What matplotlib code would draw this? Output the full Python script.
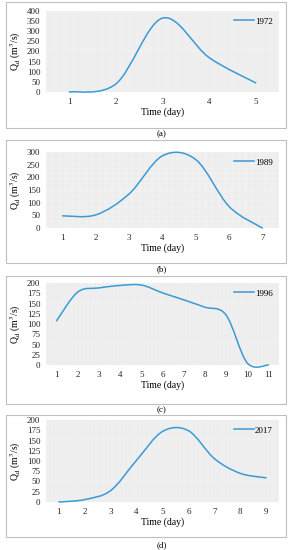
import matplotlib
matplotlib.use('Agg')
import matplotlib.pyplot as plt
from matplotlib.path import Path
from matplotlib.patches import PathPatch, Rectangle
from matplotlib.lines import Line2D
from matplotlib.ticker import MultipleLocator

plt.rcParams['font.family'] = ['Liberation Serif', 'DejaVu Serif']
plt.rcParams['mathtext.fontset'] = 'stix'

# daily discharge (m3/s)
days_1972 = [1, 2, 3, 4, 5]
q_1972 = [0, 40, 365, 170, 45]

days_1989 = [1, 2, 3, 4, 5, 6, 7]
q_1989 = [48, 52, 135, 285, 270, 85, 0]

days_1996 = [1, 2, 3, 4, 5, 6, 7, 8, 9, 10, 11]
q_1996 = [108, 178, 188, 194, 195, 176, 159, 141, 122, 5, 0]

days_2017 = [1, 2, 3, 4, 5, 6, 7, 8, 9]
q_2017 = [0, 6, 28, 102, 172, 174, 106, 70, 59]

years = ['1972', '1989', '1996', '2017']
panel_tags = ['(a)', '(b)', '(c)', '(d)']
y_max = [400, 300, 200, 200]
y_step = [50, 50, 25, 25]

LINE_COLOR = '#3a9ad6'
W, H = 291, 550


def smooth_path(x, y):
    # Excel-style smoothed line: cubic Bezier segments with Catmull-Rom control points
    pts = list(zip(x, y))
    verts = [pts[0]]
    codes = [Path.MOVETO]
    n = len(pts)
    for i in range(n - 1):
        p0 = pts[i - 1] if i > 0 else pts[i]
        p1 = pts[i]
        p2 = pts[i + 1]
        p3 = pts[i + 2] if i + 2 < n else pts[i + 1]
        c1 = (p1[0] + (p2[0] - p0[0]) / 6, p1[1] + (p2[1] - p0[1]) / 6)
        c2 = (p2[0] - (p3[0] - p1[0]) / 6, p2[1] - (p3[1] - p1[1]) / 6)
        verts += [c1, c2, p2]
        codes += [Path.CURVE4] * 3
    return Path(verts, codes)


def fig_rect(left, top, right, bottom):
    return [left / W, 1 - bottom / H, (right - left) / W, (bottom - top) / H]


fig = plt.figure(figsize=(W / 100, H / 100), dpi=100)

# pixel layout: plot area, outer box, tag y
areas = [(46, 11, 279, 92), (46, 152, 279, 228), (46, 283, 279, 365), (46, 420, 279, 502)]
boxes = [(6, 2, 286, 128), (6, 140, 286, 263), (6, 276, 286, 404), (6, 415, 286, 537)]
tag_y = [134, 269, 410, 545]

series = [(days_1972, q_1972), (days_1989, q_1989), (days_1996, q_1996), (days_2017, q_2017)]

for k, (days, q) in enumerate(series):
    bl, bt, br, bb = boxes[k]
    fig.patches.append(Rectangle((bl / W, 1 - bb / H), (br - bl) / W, (bb - bt) / H,
                                 transform=fig.transFigure, fill=False,
                                 edgecolor='#bfbfbf', linewidth=0.8))
    fig.text(162 / W, 1 - tag_y[k] / H, panel_tags[k], ha='center', va='center', fontsize=6.5)

    ax = fig.add_axes(fig_rect(*areas[k]))
    ax.set_facecolor('#f2f2f2')
    ax.set_xlim(0.5, len(days) + 0.5)
    ax.set_ylim(0, y_max[k])
    ax.set_xticks(days)
    ax.yaxis.set_major_locator(MultipleLocator(y_step[k]))
    ax.xaxis.set_minor_locator(MultipleLocator(0.2))
    ax.yaxis.set_minor_locator(MultipleLocator(y_step[k] / 5))
    ax.grid(which='both', color='#e6e6e6', linewidth=0.3)
    ax.set_axisbelow(True)
    for s in ax.spines.values():
        s.set_visible(False)
    ax.tick_params(which='both', length=0, labelsize=6.5, pad=4, colors='#262626')

    patch = PathPatch(smooth_path(days, q), fill=False, edgecolor=LINE_COLOR,
                      linewidth=1.1, clip_on=False, capstyle='round')
    ax.add_patch(patch)

    ax.set_xlabel('Time (day)', fontsize=7, labelpad=1.5)
    ax.set_ylabel('Q$_\\mathrm{d}$ (m$^3$/s)', fontsize=7, labelpad=3)
    handle = Line2D([], [], color=LINE_COLOR, linewidth=1.1)
    ax.legend([handle], [years[k]], loc='upper right', frameon=False, fontsize=6.5,
              handlelength=2.2, handletextpad=0.1, borderaxespad=0.3)

fig.savefig('out.png', dpi=100, facecolor='white')
